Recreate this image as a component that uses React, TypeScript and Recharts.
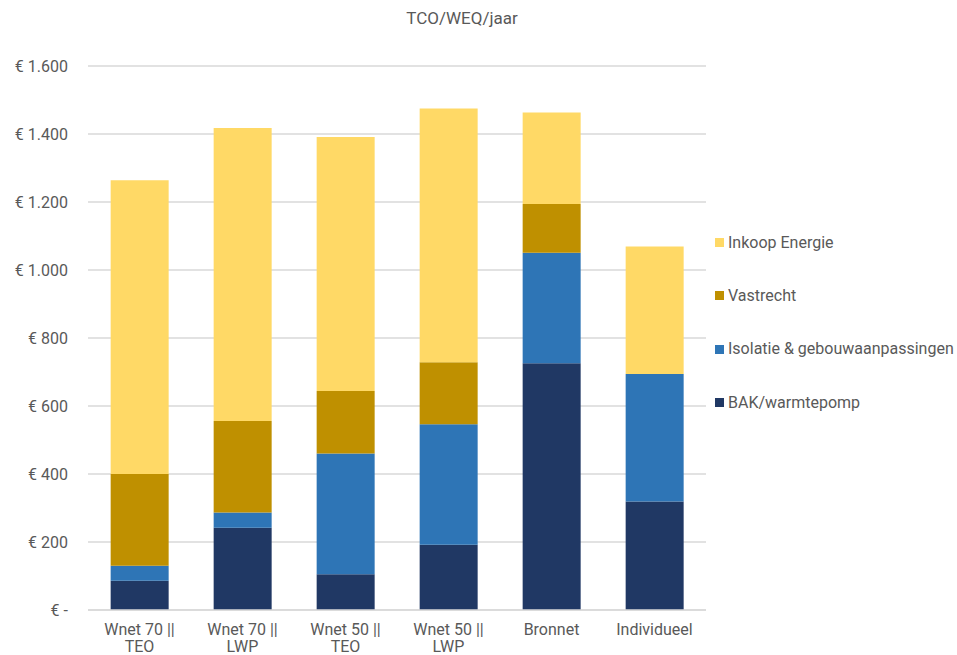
import { BarChart, Bar, XAxis, YAxis, CartesianGrid } from "recharts";

const categories = ["Wnet 70 || TEO", "Wnet 70 || LWP", "Wnet 50 || TEO", "Wnet 50 || LWP", "Bronnet", "Individueel"];
const bakWarmtepomp = [86, 242, 105, 192, 726, 319];
const isolatie = [44, 45, 355, 354, 325, 375];
const vastrecht = [270, 269, 184, 183, 143, 0];
const inkoopEnergie = [864, 862, 747, 746, 269, 375];
const yTicks = [0, 200, 400, 600, 800, 1000, 1200, 1400, 1600];

const SERIES = [
  { key: "bak", name: "BAK/warmtepomp", color: "#203864" },
  { key: "isolatie", name: "Isolatie & gebouwaanpassingen", color: "#2E75B6" },
  { key: "vastrecht", name: "Vastrecht", color: "#BF9000" },
  { key: "inkoop", name: "Inkoop Energie", color: "#FFD966" },
];

const data = categories.map((c, i) => ({
  name: c,
  bak: bakWarmtepomp[i],
  isolatie: isolatie[i],
  vastrecht: vastrecht[i],
  inkoop: inkoopEnergie[i],
}));

const FONT = "Roboto, 'Noto Sans', sans-serif";
const TEXT = "#595959";

const fmt = (v: number) => (v === 0 ? "€ -" : `€ ${v.toLocaleString("de-DE")}`);

function XTick({ x, y, payload }: any) {
  const label: string = payload.value;
  const parts = label.includes("||") ? [label.split("||")[0] + "||", label.split("||")[1].trim()] : [label];
  return (
    <text x={x} y={y} textAnchor="middle" fill={TEXT} fontSize={16} fontFamily={FONT}>
      {parts.map((p, i) => (
        <tspan key={i} x={x} dy={17}>
          {p}
        </tspan>
      ))}
    </text>
  );
}

export default function App() {
  return (
    <div style={{ position: "absolute", left: 0, top: 0, width: 957, height: 655, background: "#fff", fontFamily: FONT }}>
      <div
        style={{
          position: "absolute",
          left: 0,
          width: 924,
          top: 8,
          textAlign: "center",
          fontSize: 17,
          color: TEXT,
        }}
      >
        TCO/WEQ/jaar
      </div>
      <BarChart
        width={957}
        height={655}
        data={data}
        margin={{ top: 66, right: 251, bottom: 5, left: 8 }}
        barCategoryGap="22%"
      >
        <CartesianGrid vertical={false} stroke="#d9d9d9" strokeWidth={1.5} />
        <XAxis
          dataKey="name"
          tick={<XTick />}
          tickLine={false}
          axisLine={{ stroke: "#d9d9d9", strokeWidth: 1.5 }}
          height={40}
          interval={0}
        />
        <YAxis
          width={80}
          domain={[0, 1600]}
          ticks={yTicks}
          tickFormatter={fmt}
          axisLine={false}
          tickLine={false}
          tick={{ fill: TEXT, fontSize: 16, fontFamily: FONT }}
          tickMargin={14}
        />
        {SERIES.map((s) => (
          <Bar key={s.key} dataKey={s.key} name={s.name} stackId="a" fill={s.color} isAnimationActive={false} />
        ))}
      </BarChart>
      <div style={{ position: "absolute", left: 715, top: 216 }}>
        {[...SERIES].reverse().map((s) => (
          <div key={s.key} style={{ display: "flex", alignItems: "center", height: 53.3 }}>
            <div style={{ width: 9, height: 9, background: s.color, marginRight: 4 }} />
            <span style={{ fontSize: 16, color: TEXT, lineHeight: "20px" }}>{s.name}</span>
          </div>
        ))}
      </div>
    </div>
  );
}
